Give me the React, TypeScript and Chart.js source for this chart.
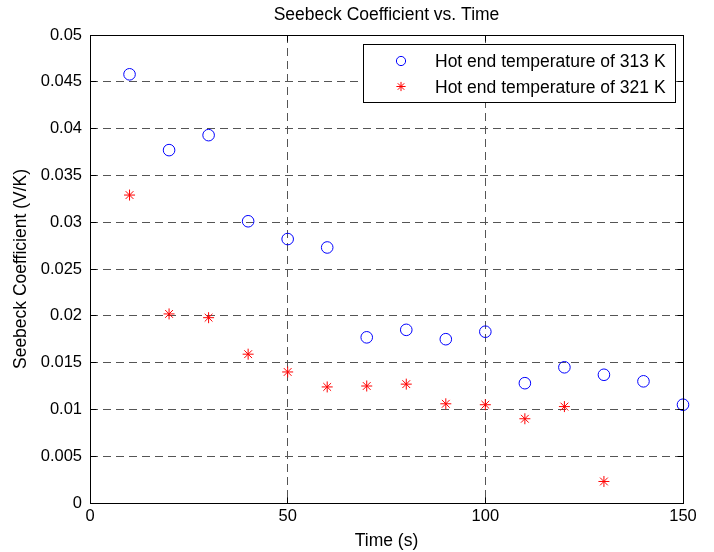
import React, { useEffect, useRef } from 'react';
import { Chart, registerables } from 'chart.js';

Chart.register(...registerables);

// ---- data ----
const times313 = [10, 20, 30, 40, 50, 60, 70, 80, 90, 100, 110, 120, 130, 140, 150];
const seebeck313 = [0.0458, 0.0377, 0.0393, 0.0301, 0.0282, 0.0273, 0.0177, 0.0185, 0.0175, 0.0183, 0.0128, 0.0145, 0.0137, 0.013, 0.0105];
const times321 = [10, 20, 30, 40, 50, 60, 70, 80, 90, 100, 110, 120, 130];
const seebeck321 = [0.0329, 0.0202, 0.0198, 0.0159, 0.014, 0.0124, 0.0125, 0.0127, 0.0106, 0.0105, 0.009, 0.0103, 0.0023];
const seriesLabels = ['Hot end temperature of 313 K', 'Hot end temperature of 321 K'];
const xTickLabels = ['0', '50', '100', '150'];
const yTickLabels = ['0', '0.005', '0.01', '0.015', '0.02', '0.025', '0.03', '0.035', '0.04', '0.045', '0.05'];
const chartTitle = 'Seebeck Coefficient vs. Time';
const xTitle = 'Time (s)';
const yTitle = 'Seebeck Coefficient (V/K)';

const FONT = "'Liberation Sans', Arial, Helvetica, sans-serif";

const align = (p: number) => Math.round(p - 0.5) + 0.5;

const boxPlugin = {
  id: 'matlabBox',
  afterDraw(chart: any) {
    const { ctx, chartArea: a, scales } = chart;
    ctx.save();
    ctx.strokeStyle = '#000';
    ctx.lineWidth = 1;
    ctx.setLineDash([]);
    const L = align(a.left), R = align(a.right), T = align(a.top), B = align(a.bottom);
    ctx.strokeRect(L, T, R - L, B - T);
    const tl = 6;
    ctx.beginPath();
    scales.x.ticks.forEach((t: any, i: number) => {
      if (i === 0 || i === scales.x.ticks.length - 1) return;
      const px = align(scales.x.getPixelForValue(t.value));
      ctx.moveTo(px, B); ctx.lineTo(px, B - tl);
      ctx.moveTo(px, T); ctx.lineTo(px, T + tl);
    });
    scales.y.ticks.forEach((t: any, i: number) => {
      if (i === 0 || i === scales.y.ticks.length - 1) return;
      const py = align(scales.y.getPixelForValue(t.value));
      ctx.moveTo(L, py); ctx.lineTo(L + tl, py);
      ctx.moveTo(R, py); ctx.lineTo(R - tl, py);
    });
    ctx.stroke();
    ctx.restore();
  },
};

const legendPlugin = {
  id: 'matlabLegend',
  afterDraw(chart: any) {
    const { ctx, chartArea: a } = chart;
    const w = 312, h = 58;
    const x0 = Math.round(a.right - 8 - w);
    const y0 = Math.round(a.top + 9);
    ctx.save();
    ctx.setLineDash([]);
    ctx.fillStyle = '#fff';
    ctx.fillRect(x0, y0, w, h);
    ctx.strokeStyle = '#000';
    ctx.lineWidth = 1;
    ctx.strokeRect(x0 + 0.5, y0 + 0.5, w, h);
    chart.data.datasets.forEach((ds: any, i: number) => {
      const cy = y0 + 17 + i * 25.5;
      const mx = x0 + 38;
      const r = 4.6;
      ctx.strokeStyle = ds.borderColor;
      ctx.lineWidth = 1;
      ctx.beginPath();
      if (ds.pointStyle === 'circle') {
        ctx.arc(mx, cy, r, 0, Math.PI * 2);
      } else {
        ctx.moveTo(mx - r, cy); ctx.lineTo(mx + r, cy);
        ctx.moveTo(mx, cy - r); ctx.lineTo(mx, cy + r);
        const d = r * Math.SQRT1_2;
        ctx.moveTo(mx - d, cy - d); ctx.lineTo(mx + d, cy + d);
        ctx.moveTo(mx - d, cy + d); ctx.lineTo(mx + d, cy - d);
      }
      ctx.stroke();
      ctx.fillStyle = '#000';
      ctx.font = `17.5px ${FONT}`;
      ctx.textAlign = 'left';
      ctx.textBaseline = 'alphabetic';
      ctx.fillText(ds.label, x0 + 72, cy + 6.3);
    });
    ctx.restore();
  },
};

export default function App() {
  const ref = useRef<HTMLCanvasElement | null>(null);

  useEffect(() => {
    if (!ref.current) return;
    const gridColor = (c: any) => {
      const ticks = c.scale ? c.scale.ticks : [];
      if (c.index === 0 || c.index === ticks.length - 1) return 'rgba(0,0,0,0)';
      return '#555';
    };
    const chart = new Chart(ref.current, {
      type: 'scatter',
      data: {
        datasets: [
          {
            label: seriesLabels[0],
            data: times313.map((t, i) => ({ x: t, y: seebeck313[i] })),
            pointStyle: 'circle',
            pointRadius: 5.8,
            borderColor: '#0000ff',
            backgroundColor: 'rgba(0,0,0,0)',
            pointBorderWidth: 1,
            showLine: false,
            clip: false as any,
          },
          {
            label: seriesLabels[1],
            data: times321.map((t, i) => ({ x: t, y: seebeck321[i] })),
            pointStyle: 'star',
            pointRadius: 5.5,
            borderColor: '#ff0000',
            backgroundColor: '#ff0000',
            pointBorderWidth: 1,
            showLine: false,
            clip: false as any,
          },
        ],
      },
      options: {
        animation: false,
        responsive: false,
        devicePixelRatio: 1,
        layout: { padding: { left: 0, right: 31, top: 0, bottom: 0 } },
        plugins: {
          legend: { display: false },
          tooltip: { enabled: false },
          title: {
            display: true,
            text: chartTitle,
            color: '#000',
            fullSize: false,
            font: { family: FONT, size: 17.5, weight: 'normal' },
            padding: { top: 4.5, bottom: 9.5 },
          },
        },
        scales: {
          x: {
            type: 'linear',
            min: 0,
            max: 150,
            afterFit: (s: any) => { s.height = 49; },
            ticks: {
              stepSize: 50,
              color: '#000',
              padding: 4,
              font: { family: FONT, size: 16.5 },
              callback: (_v: any, i: number) => xTickLabels[i],
            },
            grid: { color: gridColor, drawTicks: false, lineWidth: 1 },
            border: { display: false, dash: [8, 5] },
            title: {
              display: true,
              text: xTitle,
              color: '#000',
              font: { family: FONT, size: 17.5 },
              padding: { top: 0, bottom: 0.5 },
            },
          },
          y: {
            type: 'linear',
            min: 0,
            max: 0.05,
            afterFit: (s: any) => { s.width = 90; },
            ticks: {
              stepSize: 0.005,
              color: '#000',
              padding: 8,
              font: { family: FONT, size: 16.5 },
              callback: (_v: any, i: number) => yTickLabels[i],
            },
            grid: { color: gridColor, drawTicks: false, lineWidth: 1 },
            border: { display: false, dash: [8, 5] },
            title: {
              display: true,
              text: yTitle,
              color: '#000',
              font: { family: FONT, size: 17.5 },
              padding: { top: 11, bottom: 0 },
            },
          },
        },
      },
      plugins: [boxPlugin, legendPlugin],
    } as any);
    return () => chart.destroy();
  }, []);

  return (
    <div style={{ position: 'absolute', left: 0, top: 0, width: 714, height: 552, background: '#fff' }}>
      <canvas ref={ref} width={714} height={552} style={{ display: 'block' }} />
    </div>
  );
}
